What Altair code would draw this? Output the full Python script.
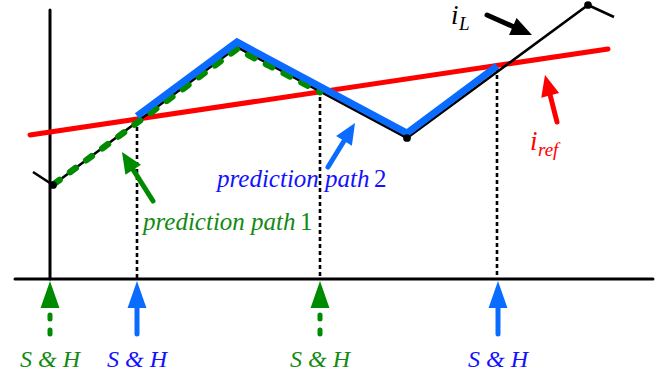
import math
import altair as alt
import pandas as pd

W, H = 662, 374

# ---- sketch data (time on x, current level on y; y grows downward) ----
time_axis_t = [15, 653]
time_axis_y = 279
current_axis_x = 50
current_axis_top = 10

# inductor current i_L
il_t = [33, 53, 237, 407, 588, 614]
il_v = [172, 185, 47, 138, 5, 17]
il_dot_t = [53, 407, 588]
il_dot_v = [185, 138, 5]

# reference current i_ref
iref_t = [30, 608]
iref_v = [135, 49]

# prediction path 1 (dashed) and prediction path 2
p1_t = [54, 237, 320]
p1_v = [184, 49, 92]
p2_t = [137, 237, 407, 497]
p2_v = [116, 42, 133, 66]

# sample & hold instants and the path each one belongs to
sh_t = [50, 137, 320, 498]
sh_path = ["path1", "path2", "path1", "path2"]
# dotted guides from the waveform down to the time axis
guide_t = [137, 320, 497]
guide_top = [120, 90, 68]

# annotation arrows (tail -> tip) and what they point at
arr_kind = ["path1", "path2", "iL", "iref"]
arr_tail_x = [153, 328, 487, 557]
arr_tail_y = [201, 167, 15, 122]
arr_tip_x = [122, 355, 532, 545]
arr_tip_y = [152, 123, 35, 75]

GREEN = "#008a00"
GREEN_TXT = "#138a13"
BLUE = "#0a6cff"
BLUE_TXT = "#1212ff"
RED = "#ff0000"
FONT = "Liberation Serif"

KINDS = ["path1", "path2", "iL", "iref"]
color_scale = alt.Scale(domain=KINDS, range=[GREEN, BLUE, "black", RED])
text_color = alt.Scale(domain=KINDS, range=[GREEN_TXT, BLUE_TXT, "black", RED])

xs = alt.Scale(domain=[0, W], nice=False, zero=False)
ys = alt.Scale(domain=[0, H], nice=False, zero=False, reverse=True)


def X(f="x"):
    return alt.X(f"{f}:Q", scale=xs, axis=None)


def Y(f="y"):
    return alt.Y(f"{f}:Q", scale=ys, axis=None)


def polyline(ts, vs):
    return pd.DataFrame({"x": ts, "y": vs, "seq": range(len(ts))})


def line_layer(df, **mark):
    return alt.Chart(df).mark_line(**mark).encode(
        x=X(), y=Y(), order=alt.Order("seq:Q"))


# axes
axes_df = pd.DataFrame({
    "x": [time_axis_t[0], time_axis_t[1], current_axis_x, current_axis_x],
    "y": [time_axis_y, time_axis_y, current_axis_top, time_axis_y],
    "seq": [0, 1, 0, 1],
    "g": ["t", "t", "i", "i"],
})
axes = alt.Chart(axes_df).mark_line(color="black", strokeWidth=3, strokeCap="round").encode(
    x=X(), y=Y(), detail="g:N", order=alt.Order("seq:Q"))

# dotted sample guides
guides_df = pd.DataFrame({"x": guide_t, "y": guide_top, "y2": [time_axis_y] * len(guide_t)})
guides = alt.Chart(guides_df).mark_rule(color="black", strokeWidth=2.6, strokeDash=[4, 3]).encode(
    x=X(), y=Y(), y2="y2:Q")

iref = line_layer(polyline(iref_t, iref_v), color=RED, strokeWidth=5, strokeCap="round")
il = line_layer(polyline(il_t, il_v), color="black", strokeWidth=2.6, strokeJoin="miter")
p1 = line_layer(polyline(p1_t, p1_v), color=GREEN, strokeWidth=6.5, strokeCap="round",
                strokeDash=[7, 13])
p2 = line_layer(polyline(p2_t, p2_v), color=BLUE, strokeWidth=7, strokeCap="butt",
                strokeJoin="miter")
dots = alt.Chart(pd.DataFrame({"x": il_dot_t, "y": il_dot_v})).mark_point(
    filled=True, color="black", size=60, opacity=1).encode(x=X(), y=Y())

# ---- arrows ----
HEAD_DIAG = "M0,0L0.88,2L-0.88,2Z"
HEAD_SH = "M0,0L0.7,2L-0.7,2Z"


def arrow_frames(kinds, tx, ty, hx, hy, head_len, shape):
    shafts, heads = [], []
    for i, k in enumerate(kinds):
        dx, dy = hx[i] - tx[i], hy[i] - ty[i]
        n = math.hypot(dx, dy)
        ux, uy = dx / n, dy / n
        ex, ey = hx[i] - ux * (head_len - 2), hy[i] - uy * (head_len - 2)
        shafts.append({"x": tx[i], "y": ty[i], "x2": ex, "y2": ey, "kind": k, "id": i})
        ang = (math.degrees(math.atan2(dx, -dy)) + 360) % 360
        heads.append({"x": hx[i], "y": hy[i], "kind": k, "ang": ang,
                      "size": head_len ** 2, "shape": shape})
    return pd.DataFrame(shafts), pd.DataFrame(heads)


def arrow_layers(shafts, heads, dash=None):
    kw = dict(strokeWidth=5, strokeCap="round")
    if dash:
        kw["strokeDash"] = dash
    shaft = alt.Chart(shafts).mark_rule(**kw).encode(
        x=X(), y=Y(), x2="x2:Q", y2="y2:Q",
        color=alt.Color("kind:N", scale=color_scale, legend=None))
    head = alt.Chart(heads).mark_point(filled=True, opacity=1, strokeWidth=0).encode(
        x=X(), y=Y(),
        angle=alt.Angle("ang:Q", scale=None),
        size=alt.Size("size:Q", scale=None),
        shape=alt.Shape("shape:N", scale=None),
        color=alt.Color("kind:N", scale=color_scale, legend=None))
    return [shaft, head]


diag_s, diag_h = arrow_frames(arr_kind, arr_tail_x, arr_tail_y, arr_tip_x, arr_tip_y, 21, HEAD_DIAG)

# sample & hold arrows under the time axis
sh_tip = time_axis_y + 2
sh_tail = 334
g_idx = [i for i, p in enumerate(sh_path) if p == "path1"]
b_idx = [i for i, p in enumerate(sh_path) if p == "path2"]
gs, gh = arrow_frames([sh_path[i] for i in g_idx], [sh_t[i] for i in g_idx], [sh_tail] * len(g_idx),
                      [sh_t[i] for i in g_idx], [sh_tip] * len(g_idx), 27, HEAD_SH)
bs, bh = arrow_frames([sh_path[i] for i in b_idx], [sh_t[i] for i in b_idx], [sh_tail] * len(b_idx),
                      [sh_t[i] for i in b_idx], [sh_tip] * len(b_idx), 27, HEAD_SH)

# ---- labels ----
sh_lbl = pd.DataFrame({"x": sh_t, "y": [367] * len(sh_t), "kind": sh_path,
                       "label": ["S & H"] * len(sh_t)})


def labels(df, size, align="left", italic=True):
    kw = dict(font=FONT, fontSize=size, align=align, baseline="alphabetic")
    if italic:
        kw["fontStyle"] = "italic"
    return alt.Chart(df).mark_text(**kw).encode(
        x=X(), y=Y(), text="label:N",
        color=alt.Color("kind:N", scale=text_color, legend=None))


sh_text = labels(sh_lbl, 24, align="center")
path_words = labels(pd.DataFrame({"x": [143, 217], "y": [230, 187], "kind": ["path1", "path2"],
                                  "label": ["prediction path", "prediction path"]}), 25)
path_nums = labels(pd.DataFrame({"x": [300, 374], "y": [230, 187], "kind": ["path1", "path2"],
                                 "label": ["1", "2"]}), 25, italic=False)
i_main = labels(pd.DataFrame({"x": [451, 530], "y": [24, 150], "kind": ["iL", "iref"],
                              "label": ["i", "i"]}), 27)
i_sub = labels(pd.DataFrame({"x": [459, 538], "y": [30, 156], "kind": ["iL", "iref"],
                             "label": ["L", "ref"]}), 19)

layers = [axes, guides, iref, il, p1, p2, dots]
layers += arrow_layers(diag_s, diag_h)
layers += arrow_layers(gs, gh, dash=[4, 11])
layers += arrow_layers(bs, bh)
layers += [sh_text, path_words, path_nums, i_main, i_sub]

chart = alt.layer(*layers).resolve_scale(color="independent").properties(
    width=W, height=H, padding=0, autosize=alt.AutoSizeParams(type="none"),
    background="white",
).configure_view(stroke=None).configure_text(font=FONT)

chart.save("out.html", embed_options={"renderer": "svg", "actions": False})
